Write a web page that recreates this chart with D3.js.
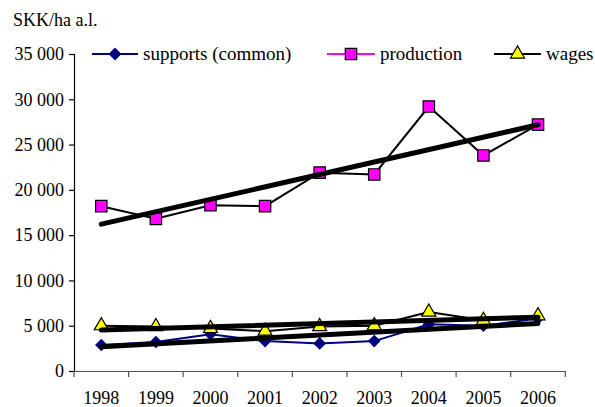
<!DOCTYPE html>
<html>
<head>
<meta charset="utf-8">
<script src="https://cdn.jsdelivr.net/npm/d3@7"></script>
<style>
  html, body { margin: 0; padding: 0; background: #fff; }
  svg text { font-family: 'Liberation Serif', 'DejaVu Serif', serif; fill: #000; }
</style>
</head>
<body>
<svg id="chart" width="595" height="407"></svg>
<script>
// Yearly values in SKK per hectare of agricultural land
const years = ["1998", "1999", "2000", "2001", "2002", "2003", "2004", "2005", "2006"];
const supports = [2870, 3200, 4050, 3300, 3050, 3300, 5150, 5000, 5800];
const production = [18200, 16800, 18300, 18200, 21900, 21700, 29200, 23800, 27200];
const wages = [5000, 4900, 4700, 4400, 4900, 5000, 6500, 5600, 6100];
const yTicks = [0, 5000, 10000, 15000, 20000, 25000, 30000, 35000];
const seriesNames = ["supports (common)", "production", "wages"];

const FONT = "'Liberation Serif', 'DejaVu Serif', serif";
const svg = d3.select("#chart");
const plot = { left: 74, right: 565.3, top: 54, bottom: 371 };

const x = d3.scaleBand().domain(years).range([plot.left, plot.right]).padding(0);
const y = d3.scaleLinear().domain([0, 35000]).range([plot.bottom, plot.top]);
const cx = d => x(d) + x.bandwidth() / 2;

// Least-squares trend across the year index
function trend(values) {
  const n = values.length;
  const mx = (n - 1) / 2;
  const my = d3.mean(values);
  let sxy = 0, sxx = 0;
  values.forEach((v, i) => { sxy += (i - mx) * (v - my); sxx += (i - mx) * (i - mx); });
  const b = sxy / sxx, a = my - b * mx;
  return [[years[0], a], [years[n - 1], a + b * (n - 1)]];
}

// Title
svg.append("text").attr("x", 13).attr("y", 26)
  .attr("font-family", FONT).attr("font-size", 18).text("SKK/ha a.l.");

// Y axis
const fmt = d => d3.format(",")(d).replace(/,/g, " ");
const yAxis = svg.append("g").attr("transform", `translate(${plot.left},0)`)
  .call(d3.axisLeft(y).tickValues(yTicks).tickFormat(fmt).tickSize(5).tickPadding(5));
yAxis.attr("font-family", FONT).attr("font-size", 18);
yAxis.selectAll("text").attr("fill", "#000");
yAxis.selectAll("line, path").attr("stroke", "#000").attr("stroke-width", 1.2);

// X axis: labels centred in bands, ticks on band edges
const xAxis = svg.append("g").attr("transform", `translate(0,${plot.bottom})`)
  .call(d3.axisBottom(x).tickSize(0).tickPadding(20));
xAxis.attr("font-family", FONT).attr("font-size", 18);
xAxis.select(".domain").attr("stroke", "#555").attr("stroke-width", 1.2);
xAxis.selectAll("text").attr("fill", "#000");
const edges = years.map(d => x(d)).concat([x(years[years.length - 1]) + x.bandwidth()]);
xAxis.selectAll(".edge").data(edges).join("line").attr("class", "edge")
  .attr("x1", d => d).attr("x2", d => d).attr("y1", 0).attr("y2", 6)
  .attr("stroke", "#555").attr("stroke-width", 1.2);

const line = d3.line().x(d => cx(d[0])).y(d => y(d[1]));

// Markers (diamond = square turned 45 degrees)
const diamond = d3.symbol().type(d3.symbolSquare).size(62);
const square = d3.symbol().type(d3.symbolSquare).size(130);
const triangle = d3.symbol().type(d3.symbolTriangle).size(85);

function drawSeries(values, color, symbol, rot, fill, stroke, strokeW) {
  const pts = years.map((yr, i) => [yr, values[i]]);
  svg.append("path").attr("d", line(pts)).attr("fill", "none")
    .attr("stroke", color).attr("stroke-width", 2);
  svg.append("g").selectAll("path").data(pts).join("path")
    .attr("d", symbol)
    .attr("transform", d => `translate(${cx(d[0])},${y(d[1])}) rotate(${rot})`)
    .attr("fill", fill).attr("stroke", stroke).attr("stroke-width", strokeW);
}

drawSeries(supports, "#000080", diamond, 45, "#000080", "#000080", 1);
drawSeries(production, "#000", square, 0, "#ff00ff", "#000", 1.2);
drawSeries(wages, "#000", triangle, 0, "#ffff00", "#000", 1.2);

// Trend lines
[supports, production, wages].forEach(vals => {
  svg.append("path").attr("d", line(trend(vals))).attr("fill", "none")
    .attr("stroke", "#000").attr("stroke-width", 5).attr("stroke-linecap", "round");
});

// Legend
const legendItems = [
  { name: seriesNames[0], x0: 92, x1: 138, color: "#000080", sym: diamond, rot: 45, fill: "#000080", stroke: "#000080" },
  { name: seriesNames[1], x0: 327, x1: 375, color: "#ff00ff", sym: square, rot: 0, fill: "#ff00ff", stroke: "#000" },
  { name: seriesNames[2], x0: 494, x1: 541, color: "#000", sym: triangle, rot: 0, fill: "#ffff00", stroke: "#000" }
];
const ly = 54;
const lg = svg.append("g");
legendItems.forEach(it => {
  lg.append("line").attr("x1", it.x0).attr("x2", it.x1).attr("y1", ly).attr("y2", ly)
    .attr("stroke", it.color).attr("stroke-width", 2);
  lg.append("path").attr("d", it.sym)
    .attr("transform", `translate(${(it.x0 + it.x1) / 2},${ly}) rotate(${it.rot})`)
    .attr("fill", it.fill).attr("stroke", it.stroke).attr("stroke-width", 1.2);
  lg.append("text").attr("x", it.x1 + 5).attr("y", ly + 6)
    .attr("font-family", FONT).attr("font-size", 19).text(it.name);
});
</script>
</body>
</html>
